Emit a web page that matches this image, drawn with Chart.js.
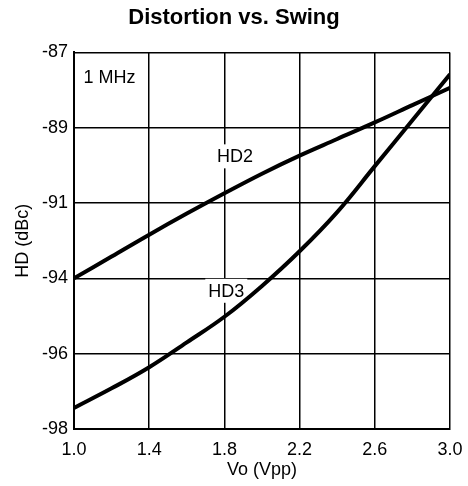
<!DOCTYPE html>
<html>
<head>
<meta charset="utf-8">
<script src="https://cdn.jsdelivr.net/npm/chart.js@4"></script>
<style>
  html, body { margin: 0; padding: 0; background: #fff; }
  #wrap { width: 468px; height: 486px; }
</style>
</head>
<body>
<div id="wrap"><canvas id="myChart"></canvas></div>
<script>
var xValues = [1.0, 1.2, 1.4, 1.6, 1.8, 2.0, 2.2, 2.4, 2.6, 2.8, 3.0];
var hd2Values = [-94, -93.13, -92.26, -91.42, -90.74, -90.22, -89.74, -89.3, -88.86, -88.4, -87.94];
var hd3Values = [-97.44, -96.92, -96.36, -95.7, -95.02, -94.2, -92.92, -91.36, -90.02, -88.8, -87.58];
var xTicks = [1.0, 1.4, 1.8, 2.2, 2.6, 3.0];
// the y grid is evenly spaced but the printed labels are not
var yTicks = [-98, -96, -94, -91, -89, -87];

var FONT = "'Liberation Sans', Arial, sans-serif";

// dBc -> grid division, using the printed labels
function toDiv(v) {
  for (var i = 0; i < yTicks.length - 1; i++) {
    if (v <= yTicks[i + 1]) {
      return i + (v - yTicks[i]) / (yTicks[i + 1] - yTicks[i]);
    }
  }
  return yTicks.length - 1;
}
function pts(ys) {
  return xValues.map(function (x, i) { return { x: x, y: toDiv(ys[i]) }; });
}

var notes = [
  { text: "1 MHz", x: 1.05, y: toDiv(-87.66), align: "left", box: false },
  { text: "HD2", x: 1.856, y: toDiv(-89.76), align: "center", box: true },
  { text: "HD3", x: 1.81, y: toDiv(-94.33), align: "center", box: true }
];

var notePlugin = {
  id: "notes",
  beforeDatasetsDraw: function (chart) {
    var ctx = chart.ctx;
    var xs = chart.scales.x, ys = chart.scales.y;
    ctx.save();
    ctx.font = "18px " + FONT;
    ctx.textBaseline = "middle";
    notes.forEach(function (n) {
      var px = xs.getPixelForValue(n.x), py = ys.getPixelForValue(n.y);
      var w = ctx.measureText(n.text).width;
      if (n.box) {
        ctx.fillStyle = "#fff";
        ctx.fillRect(px - w / 2 - 3, py - 12, w + 6, 24);
      }
      ctx.fillStyle = "#000";
      ctx.textAlign = n.align;
      ctx.fillText(n.text, px, py + 1);
    });
    ctx.restore();
  }
};

new Chart("myChart", {
  type: "line",
  data: {
    datasets: [{
      label: "HD2",
      data: pts(hd2Values),
      borderColor: "#000",
      borderWidth: 4,
      pointRadius: 0,
      tension: 0.4
    }, {
      label: "HD3",
      data: pts(hd3Values),
      borderColor: "#000",
      borderWidth: 4,
      pointRadius: 0,
      tension: 0.4
    }]
  },
  options: {
    responsive: true,
    maintainAspectRatio: false,
    animation: false,
    layout: { padding: 0 },
    plugins: {
      legend: { display: false },
      tooltip: { enabled: false },
      title: {
        display: true,
        text: "Distortion vs. Swing",
        color: "#000",
        font: { family: FONT, size: 22, weight: "bold" },
        padding: { top: 5, bottom: 21 }
      }
    },
    scales: {
      x: {
        type: "linear",
        min: 1.0,
        max: 3.0,
        afterBuildTicks: function (axis) {
          axis.ticks = xTicks.map(function (v) { return { value: v }; });
        },
        afterFit: function (axis) {
          axis.height = 57;
          axis.paddingLeft = 0;
          axis.paddingRight = 0;
        },
        ticks: {
          color: "#000",
          padding: 10,
          maxRotation: 0,
          font: { family: FONT, size: 18 },
          callback: function (v) { return v.toFixed(1); }
        },
        grid: { color: "#000", lineWidth: 1.5, drawTicks: false },
        border: { color: "#000", width: 2 },
        title: {
          display: true,
          text: "Vo (Vpp)",
          color: "#000",
          padding: { top: 5, bottom: 5 },
          font: { family: FONT, size: 18 }
        }
      },
      y: {
        type: "linear",
        min: 0,
        max: yTicks.length - 1,
        afterBuildTicks: function (axis) {
          axis.ticks = yTicks.map(function (v, i) { return { value: i }; });
        },
        afterFit: function (axis) { axis.width = 74; },
        ticks: {
          color: "#000",
          padding: 6,
          font: { family: FONT, size: 18 },
          callback: function (v) { return String(yTicks[v]); }
        },
        grid: { color: "#000", lineWidth: 1.5, drawTicks: false },
        border: { color: "#000", width: 2 },
        title: {
          display: true,
          text: "HD (dBc)",
          color: "#000",
          padding: { top: 12, bottom: 12 },
          font: { family: FONT, size: 18 }
        }
      },
      // empty right-hand strip so the plot ends at the same place as the reference
      yR: {
        type: "linear",
        position: "right",
        min: 0,
        max: 1,
        afterFit: function (axis) { axis.width = 18; },
        ticks: { display: false },
        grid: { display: false },
        border: { display: false }
      }
    }
  },
  plugins: [notePlugin]
});
</script>
</body>
</html>
